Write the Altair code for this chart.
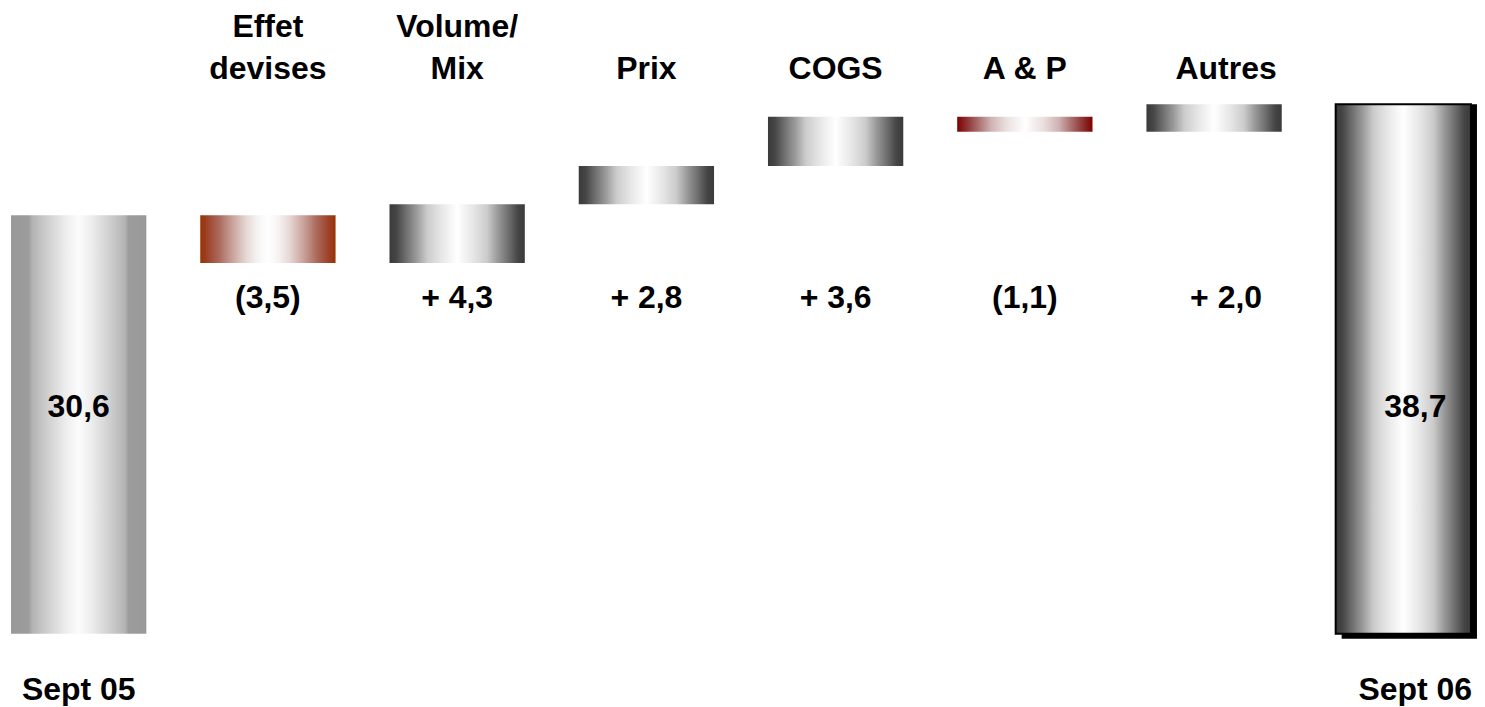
import altair as alt
import pandas as pd

# ---------------- data ----------------
categories = ["Sept 05", "Effet devises", "Volume/Mix", "Prix", "COGS", "A & P", "Autres", "Sept 06"]
is_total = [True, False, False, False, False, False, False, True]
values = [30.6, -3.5, 4.3, 2.8, 3.6, -1.1, 2.0, 38.7]
value_labels = ["", "(3,5)", "+ 4,3", "+ 2,8", "+ 3,6", "(1,1)", "+ 2,0", ""]
inner_labels = ["30,6", "", "", "", "", "", "", "38,7"]
head_line1 = ["", "Effet", "Volume/", "", "", "", "", ""]
head_line2 = ["", "devises", "Mix", "Prix", "COGS", "A & P", "Autres", ""]
foot_labels = ["Sept 05", "", "", "", "", "", "", "Sept 06"]

# waterfall start / end
starts, ends = [], []
running = 0.0
for tot, v in zip(is_total, values):
    if tot:
        starts.append(0.0)
        ends.append(v)
        running = v
    else:
        starts.append(running)
        running = running + v
        ends.append(running)

df = pd.DataFrame({
    "category": categories,
    "start": starts,
    "end": ends,
    "value_label": value_labels,
    "inner_label": inner_labels,
    "head1": head_line1,
    "head2": head_line2,
    "foot": foot_labels,
})

# ---------------- styles ----------------
FONT = "Liberation Sans"
FS = 32
SHIFTED = ["Autres", "Sept 06"]   # labels sit slightly right of these bars


def grad(stops):
    return alt.LinearGradient(
        gradient="linear", x1=0, x2=1, y1=0, y2=0,
        stops=[alt.GradientStop(offset=o, color=c) for o, c in stops],
    )


def sym(half):
    out = list(half)
    for o, c in reversed(half[:-1]):
        out.append((1 - o, c))
    return out


LIGHT = grad(sym([(0, "#999999"), (0.13, "#9c9c9c"), (0.16, "#b4b4b4"), (0.27, "#cfcfcf"),
                  (0.4, "#ececec"), (0.5, "#fcfcfc")]))
DARK = grad(sym([(0, "#3a3a3a"), (0.05, "#454545"), (0.12, "#6e6e6e"), (0.2, "#9a9a9a"),
                 (0.28, "#cccccc"), (0.38, "#e6e6e6"), (0.5, "#ffffff")]))
RUST = grad(sym([(0, "#993300"), (0.04, "#9c3d22"), (0.14, "#ab6a5c"), (0.24, "#caa49c"),
                 (0.34, "#e6d8d5"), (0.42, "#f6f2f2"), (0.5, "#ffffff")]))
RED = grad(sym([(0, "#800000"), (0.06, "#8a2a2a"), (0.15, "#a86a6a"), (0.25, "#cfb2b2"),
                (0.36, "#eadede"), (0.5, "#ffffff")]))

groups = [
    (["Sept 05"], LIGHT),
    (["Effet devises"], RUST),
    (["Volume/Mix", "Prix", "COGS", "Autres"], DARK),
    (["A & P"], RED),
]

x_enc = alt.X("category:N", sort=categories, axis=None,
              scale=alt.Scale(paddingInner=0.285, paddingOuter=0.016))
y_scale = alt.Scale(domain=[-4.67, 45.71], nice=False, zero=False)

base = alt.Chart(df).encode(x=x_enc)

layers = []

# shadow of final total
layers.append(
    base.transform_filter(alt.datum.category == "Sept 06")
    .mark_bar(fill="#000000", xOffset=6, yOffset=5)
    .encode(y=alt.Y("start:Q", scale=y_scale, axis=None), y2="end:Q")
)

for cats, g in groups:
    layers.append(
        base.transform_filter(alt.FieldOneOfPredicate(field="category", oneOf=cats))
        .mark_bar(fill=g)
        .encode(y=alt.Y("start:Q", scale=y_scale, axis=None), y2="end:Q")
    )

layers.append(
    base.transform_filter(alt.datum.category == "Sept 06")
    .mark_bar(fill=DARK, stroke="#000000", strokeWidth=2)
    .encode(y=alt.Y("start:Q", scale=y_scale, axis=None), y2="end:Q")
)


def txt(field, ypix):
    out = []
    for shifted, dx in ((False, 0), (True, 12)):
        pred = alt.FieldOneOfPredicate(field="category", oneOf=SHIFTED)
        flt = pred if shifted else alt.LogicalNotPredicate(**{"not": pred})
        out.append(
            base.transform_filter(flt)
            .mark_text(font=FONT, fontSize=FS, fontWeight="bold", color="#000000",
                       baseline="middle", align="center", dx=dx)
            .encode(y=alt.value(ypix), text=f"{field}:N")
        )
    return out


layers += txt("head1", 19)
layers += txt("head2", 61)
layers += txt("value_label", 290)
layers += txt("inner_label", 399)
layers += txt("foot", 682)

chart = alt.layer(*layers).properties(
    width=1468, height=690, padding=0,
).configure(background="#ffffff").configure_view(stroke=None)

chart.save("out.html", embed_options={"renderer": "svg", "actions": False})
